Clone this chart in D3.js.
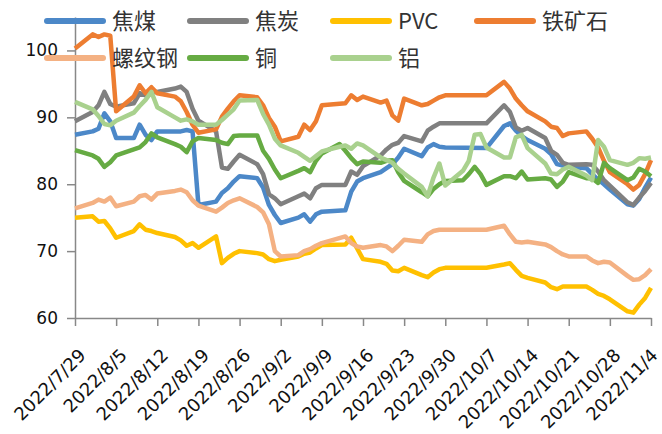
<!DOCTYPE html>
<html>
<head>
<meta charset="utf-8">
<script src="https://cdn.jsdelivr.net/npm/d3@7"></script>
<style>
  body { margin: 0; background: #fff; }
  .axis path, .axis line { stroke: #888; stroke-width: 1.5px; }
  .axis text { font-family: "DejaVu Sans", sans-serif; font-size: 17px; fill: #111; }
  .x-axis text { font-size: 18px; }
  .legend text { font-family: "Noto Sans CJK SC", sans-serif; font-size: 22px; fill: #333; }
</style>
</head>
<body>
<svg id="chart" width="662" height="434"></svg>
<script>
// trading days (holiday 10/1-10/7 carried flat for domestic futures)
var domesticDates = ["7/29",
  "8/1","8/2","8/3","8/4","8/5", "8/8","8/9","8/10","8/11","8/12",
  "8/15","8/16","8/17","8/18","8/19", "8/22","8/23","8/24","8/25","8/26",
  "8/29","8/30","8/31","9/1","9/2", "9/5","9/6","9/7","9/8","9/9",
  "9/13","9/14","9/15","9/16", "9/19","9/20","9/21","9/22","9/23",
  "9/26","9/27","9/28","9/29","9/30", "10/7",
  "10/10","10/11","10/12","10/13","10/14", "10/17","10/18","10/19","10/20","10/21",
  "10/24","10/25","10/26","10/27","10/28", "10/31","11/1","11/2","11/3","11/4"];

// metals also move on 9/12 and during the national day week
var metalDates = ["7/29",
  "8/1","8/2","8/3","8/4","8/5", "8/8","8/9","8/10","8/11","8/12",
  "8/15","8/16","8/17","8/18","8/19", "8/22","8/23","8/24","8/25","8/26",
  "8/29","8/30","8/31","9/1","9/2", "9/5","9/6","9/7","9/8","9/9",
  "9/12","9/13","9/14","9/15","9/16", "9/19","9/20","9/21","9/22","9/23",
  "9/26","9/27","9/28","9/29","9/30", "10/3","10/4","10/5","10/6","10/7",
  "10/10","10/11","10/12","10/13","10/14", "10/17","10/18","10/19","10/20","10/21",
  "10/24","10/25","10/26","10/27","10/28", "10/31","11/1","11/2","11/3","11/4"];

var cokingCoal = [87.4,
  87.9,88.3,90.6,89.4,86.9, 86.9,88.9,87.4,86.6,87.9,
  87.9,87.9,88.1,87.9,76.9, 77.4,78.7,79.4,80.4,81.2,
  80.9,79.5,76.9,75.4,74.2, 75.0,75.5,74.4,75.5,75.9,
  76.1,78.9,80.4,80.9, 81.8,82.4,83.0,84.0,85.3,
  84.2,85.5,86.0,85.6,85.5, 85.4,
  88.7,89.1,88.0,87.2,86.6, 85.3,84.5,83.0,82.8,82.6,
  82.4,81.5,80.7,80.0,79.2, 77.0,76.8,77.8,79.5,81.0];

var coke = [89.4,
  90.8,91.8,93.8,92.0,91.6, 92.1,93.6,93.3,93.8,93.8,
  94.3,94.6,93.8,91.3,89.5, 87.9,82.5,82.3,83.4,84.4,
  83.0,81.5,78.5,77.9,77.0, 78.2,78.6,77.9,79.4,79.9,
  79.9,81.9,81.4,82.7, 84.3,85.2,85.9,86.2,87.2,
  86.4,88.0,88.6,89.1,89.1, 89.1,
  91.8,90.8,88.5,88.0,88.4, 86.9,85.0,84.4,83.2,82.9,
  83.0,82.9,81.9,80.6,79.8, 77.3,76.9,78.0,79.0,80.2];

var pvc = [75.0,
  75.2,74.4,74.5,73.4,72.0, 73.0,74.0,73.2,73.0,72.7,
  72.1,71.6,70.8,71.2,70.5, 72.2,68.2,69.0,69.6,70.0,
  69.7,69.5,68.8,68.5,68.7, 69.2,69.6,69.8,70.4,70.9,
  71.0,72.0,70.4,68.8, 68.4,68.1,67.1,67.0,67.5,
  66.4,66.1,66.8,67.3,67.5, 67.5,
  68.0,68.2,67.2,66.3,66.0, 65.3,64.6,64.3,64.7,64.7,
  64.7,64.2,63.6,63.3,62.8, 61.0,60.8,62.0,63.0,64.5];

var ironOre = [100.3,
  102.4,102.0,102.4,102.2,90.9, 93.1,94.8,93.6,94.5,93.6,
  93.1,92.4,90.8,88.9,87.7, 88.2,90.1,91.3,92.4,93.3,
  93.0,91.8,89.9,88.6,86.4, 87.1,88.9,88.1,89.4,91.8,
  92.1,93.3,92.6,93.1, 92.2,92.5,90.3,89.5,92.8,
  91.8,92.0,92.5,93.0,93.3, 93.3,
  95.3,94.3,92.8,91.8,90.9, 89.4,88.6,88.4,87.2,87.6,
  87.9,86.8,85.5,83.5,81.8, 80.0,79.2,79.9,81.5,83.6];

var rebar = [76.4,
  77.2,77.7,77.4,78.0,76.7, 77.4,78.2,78.4,77.7,78.6,
  79.0,79.2,78.8,77.6,76.8, 75.9,76.5,77.2,77.6,77.9,
  76.6,75.8,74.0,70.0,69.2, 69.4,70.0,70.3,70.8,71.2,
  72.2,71.2,70.7,70.5, 70.9,70.7,70.0,70.8,71.7,
  71.4,72.5,73.0,73.2,73.2, 73.2,
  73.8,72.5,71.4,71.3,71.4, 71.0,70.6,70.0,69.5,69.2,
  69.2,68.6,68.2,68.4,68.3, 66.3,65.7,65.8,66.4,67.3];

var copper = [85.1,
  84.3,83.8,82.6,83.3,84.3, 85.2,85.5,86.3,87.6,87.0,
  86.0,85.6,84.8,86.4,86.9, 86.6,86.2,86.0,87.2,87.3,
  87.3,85.0,83.8,82.2,80.9, 82.0,82.4,81.8,83.5,84.6,
  86.0,85.0,83.9,83.0,83.4, 83.2,83.5,83.6,81.8,80.5,
  78.8,78.2,79.3,80.0,80.5, 80.6,81.5,82.6,81.5,79.9,
  81.2,81.2,80.9,81.9,80.7, 80.9,80.7,79.6,80.4,81.8,
  80.9,80.9,80.2,83.2,82.4, 80.6,81.0,82.3,81.9,81.2];

var aluminium = [92.3,
  91.2,90.2,89.0,88.8,89.5, 90.7,91.7,92.6,93.8,91.5,
  90.0,89.5,89.7,89.4,88.9, 88.9,89.6,90.4,91.2,92.5,
  92.6,90.5,88.9,86.8,85.8, 84.7,84.1,83.5,84.2,84.9,
  85.6,85.8,85.3,86.1,85.8, 84.0,83.6,83.2,82.3,81.6,
  79.6,78.2,81.0,83.1,79.8, 82.0,83.5,87.4,87.5,85.5,
  84.0,84.0,87.0,87.4,85.4, 83.1,81.6,81.5,82.2,82.6,
  81.3,80.6,86.6,85.6,83.6, 82.9,83.2,83.9,83.8,84.0];

var tickDates = ["7/29","8/5","8/12","8/19","8/26","9/2","9/9","9/16",
  "9/23","9/30","10/7","10/14","10/21","10/28","11/4"];
var yTicks = [60, 70, 80, 90, 100];

var series = [
  { name: "焦煤", color: "#4C88C8", dates: domesticDates, values: cokingCoal },
  { name: "焦炭", color: "#808080", dates: domesticDates, values: coke },
  { name: "PVC", color: "#FFC000", dates: domesticDates, values: pvc },
  { name: "铁矿石", color: "#ED7D31", dates: domesticDates, values: ironOre },
  { name: "螺纹钢", color: "#F4B183", dates: domesticDates, values: rebar },
  { name: "铜", color: "#66AB43", dates: metalDates, values: copper },
  { name: "铝", color: "#A9D18E", dates: metalDates, values: aluminium }
];

var parseDate = (s) => d3.timeParse("%Y/%m/%d")("2022/" + s);

var svg = d3.select("#chart");

var x = d3.scaleTime()
  .domain([parseDate("7/29"), parseDate("11/4")])
  .range([75, 651]);

var y = d3.scaleLinear()
  .domain([60, 105])
  .range([318, 17]);

// y axis
svg.append("g")
  .attr("class", "axis")
  .attr("transform", "translate(75,0)")
  .call(d3.axisLeft(y).tickValues(yTicks).tickSize(8).tickSizeOuter(0).tickPadding(9));

// x axis
var xAxis = svg.append("g")
  .attr("class", "axis x-axis")
  .attr("transform", "translate(0,318)")
  .call(d3.axisBottom(x)
    .tickValues(tickDates.map(parseDate))
    .tickSize(8)
    .tickSizeOuter(0)
    .tickFormat(d3.timeFormat("%Y/%-m/%-d")));

var nTicks = tickDates.length;
xAxis.selectAll("text")
  .attr("text-anchor", "end")
  .attr("x", 0)
  .attr("y", 0)
  .attr("dy", "0.35em")
  // last label pulled in a little so it stays inside the frame
  .attr("transform", (d, i) => i === nTicks - 1 ? "translate(3,34) rotate(-45)" : "translate(7,34) rotate(-45)");

var line = d3.line()
  .x((d) => x(d.date))
  .y((d) => y(d.value));

series.forEach((s) => {
  var pts = s.values.map((v, i) => ({ date: parseDate(s.dates[i]), value: v }));
  svg.append("path")
    .datum(pts)
    .attr("fill", "none")
    .attr("stroke", s.color)
    .attr("stroke-width", 4.5)
    .attr("stroke-linejoin", "round")
    .attr("d", line);
});

// legend, two rows of four columns
var legendCols = [47, 190, 333, 477],
    legendRows = [21, 58];

var legend = svg.append("g").attr("class", "legend");
series.forEach((s, i) => {
  var lx = legendCols[i % 4], ly = legendRows[Math.floor(i / 4)];
  legend.append("line")
    .attr("x1", lx).attr("x2", lx + 56)
    .attr("y1", ly).attr("y2", ly)
    .attr("stroke", s.color)
    .attr("stroke-width", 6)
    .attr("stroke-linecap", "round");
  legend.append("text")
    .attr("x", lx + 65)
    .attr("y", ly)
    .attr("dy", "0.36em")
    .text(s.name);
});
</script>
</body>
</html>
